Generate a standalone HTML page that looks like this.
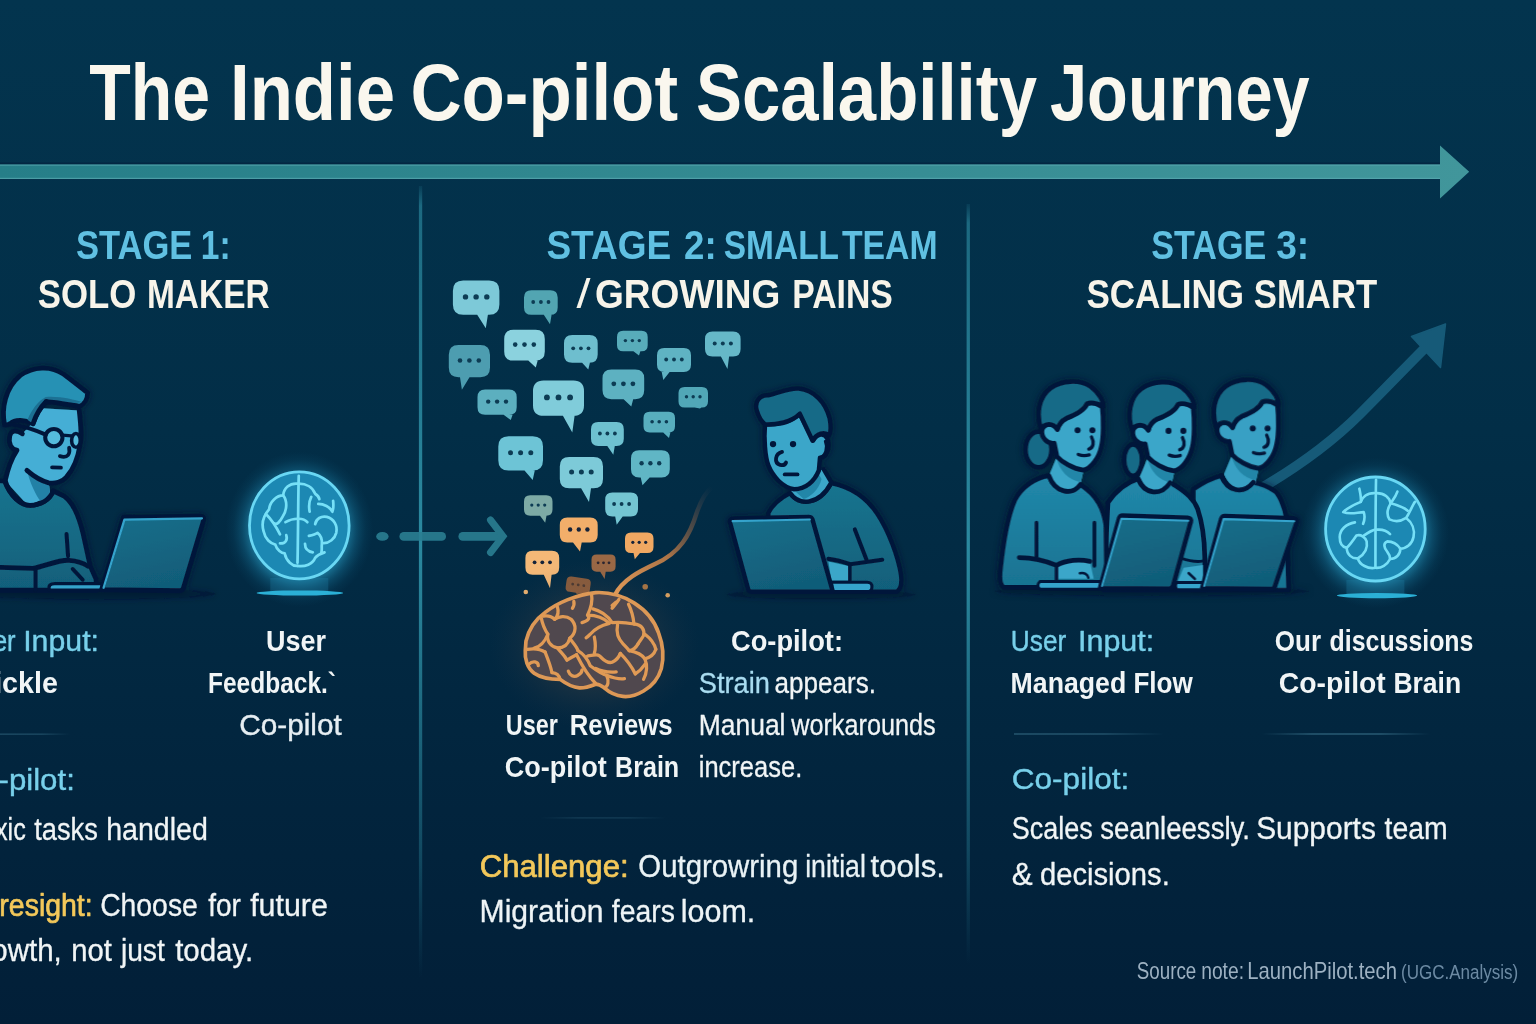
<!DOCTYPE html>
<html lang="en"><head><meta charset="utf-8"><title>The Indie Co-pilot Scalability Journey</title>
<style>
html,body{margin:0;padding:0;background:#03304a;overflow:hidden}
svg{display:block}
text{font-family:"Liberation Sans",sans-serif}
</style></head><body>
<svg width="1536" height="1024" viewBox="0 0 1536 1024">
<defs>
<linearGradient id="bg" x1="0" y1="0" x2="0" y2="1">
<stop offset="0" stop-color="#03344e"/><stop offset="0.42" stop-color="#022e47"/><stop offset="0.75" stop-color="#02253e"/><stop offset="1" stop-color="#021f38"/>
</linearGradient>
<linearGradient id="arrowg" x1="0" y1="0" x2="1" y2="0">
<stop offset="0" stop-color="#267e88"/><stop offset="1" stop-color="#41969b"/>
</linearGradient>
<linearGradient id="divg" x1="0" y1="0" x2="0" y2="1">
<stop offset="0" stop-color="#2d8ea4" stop-opacity="0.12"/><stop offset="0.025" stop-color="#2d8ea4" stop-opacity="0.6"/><stop offset="0.19" stop-color="#2d8ea4" stop-opacity="0.75"/><stop offset="0.45" stop-color="#2d8ea4" stop-opacity="0.95"/><stop offset="0.55" stop-color="#2d8ea4" stop-opacity="0.82"/><stop offset="0.85" stop-color="#2d8ea4" stop-opacity="0.34"/><stop offset="1" stop-color="#2d8ea4" stop-opacity="0"/>
</linearGradient>
<radialGradient id="glow" cx="0.5" cy="0.5" r="0.5">
<stop offset="0" stop-color="#2fb4dc" stop-opacity="0.6"/><stop offset="0.66" stop-color="#2aa6cf" stop-opacity="0.55"/><stop offset="0.78" stop-color="#1d8bb4" stop-opacity="0.3"/><stop offset="0.9" stop-color="#15769c" stop-opacity="0.1"/><stop offset="1" stop-color="#10688e" stop-opacity="0"/>
</radialGradient>
<radialGradient id="oglow" cx="0.5" cy="0.5" r="0.5">
<stop offset="0" stop-color="#c98a4e" stop-opacity="0.30"/><stop offset="0.6" stop-color="#7a5a48" stop-opacity="0.14"/><stop offset="1" stop-color="#3a4050" stop-opacity="0"/>
</radialGradient>
<linearGradient id="tailg" x1="0" y1="1" x2="1" y2="0">
<stop offset="0" stop-color="#e29a58"/><stop offset="0.45" stop-color="#c07d48" stop-opacity="0.9"/><stop offset="0.75" stop-color="#6d5547" stop-opacity="0.6"/><stop offset="1" stop-color="#3b4150" stop-opacity="0"/>
</linearGradient>
<linearGradient id="sepg" x1="0" y1="0" x2="1" y2="0">
<stop offset="0" stop-color="#4b8ba4" stop-opacity="0"/><stop offset="0.3" stop-color="#4b8ba4" stop-opacity="0.55"/><stop offset="0.7" stop-color="#4b8ba4" stop-opacity="0.55"/><stop offset="1" stop-color="#4b8ba4" stop-opacity="0"/>
</linearGradient>
<linearGradient id="sepl" x1="0" y1="0" x2="1" y2="0">
<stop offset="0" stop-color="#4b8ba4" stop-opacity="0.5"/><stop offset="0.6" stop-color="#4b8ba4" stop-opacity="0.45"/><stop offset="1" stop-color="#4b8ba4" stop-opacity="0"/>
</linearGradient>
<filter id="blur3" x="-20%" y="-20%" width="140%" height="140%"><feGaussianBlur stdDeviation="3"/></filter>
<filter id="blur6" x="-30%" y="-30%" width="160%" height="160%"><feGaussianBlur stdDeviation="6"/></filter>
</defs>
<rect x="0" y="0" width="1536" height="1024" fill="url(#bg)"/>
<rect x="-2" y="162.5" width="1442" height="2.5" fill="#04203c" opacity="0.6"/>
<path d="M-2,164.5 H1440 V145.5 L1469.2,171.8 L1440,198.5 V179 H-2 Z" fill="url(#arrowg)"/>
<rect x="-2" y="164.5" width="1442" height="1.2" fill="#5aaab0" opacity="0.7"/>
<rect x="-2" y="177.8" width="1442" height="1.2" fill="#5aaab0" opacity="0.7"/>
<rect x="418.9" y="186" width="3.3" height="792" fill="url(#divg)"/>
<rect x="966.6" y="204" width="3.3" height="760" fill="url(#divg)"/>
<rect x="0" y="733.5" width="70" height="1.3" fill="url(#sepl)" opacity="0.8"/>
<rect x="1014" y="733.3" width="150" height="1.4" fill="url(#sepl)"/>
<rect x="1262" y="733.3" width="168" height="1.4" fill="url(#sepg)"/>
<rect x="540" y="817.3" width="126" height="1.2" fill="url(#sepg)" opacity="0.45"/>
<g id="growth" opacity="0.95"><path d="M1258,490 C1296,468 1334,440 1360,414 C1385,389 1405,368 1424,349" fill="none" stroke="#185d7b" stroke-width="10" stroke-linecap="round"/><path d="M1445.5,324 L1411.5,336.5 L1440.5,367.5 Z" fill="#185d7b" stroke="#185d7b" stroke-width="1.5" stroke-linejoin="round"/></g>
<g id="dash" opacity="0.9"><ellipse cx="382.4" cy="536.4" rx="6.2" ry="4.4" fill="#2a7f92"/><rect x="399.4" y="532" width="46.6" height="8.8" rx="4.4" fill="#2a7f92"/><path d="M462.8,532 H503 V540.8 H462.8 A4.4,4.4 0 0 1 462.8,532 Z" fill="#2a7f92"/><path d="M490.5,520 L503,536.3 L490.5,552.5" fill="none" stroke="#2a7f92" stroke-width="7" stroke-linecap="round" stroke-linejoin="miter"/></g>
<g id="bubbles">
<g opacity="1"><path d="M463.2,280.4 H489.1 Q499.4,280.4 499.4,290.7 V304.5 Q499.4,314.8 489.1,314.8 H487.9 L485.8,328.3 L477.2,314.8 H463.2 Q452.9,314.8 452.9,304.5 V290.7 Q452.9,280.4 463.2,280.4 Z" fill="#7dc9d8"/><circle cx="465.5" cy="296.9" r="2.7" fill="#0d3c54"/><circle cx="476.1" cy="296.9" r="2.7" fill="#0d3c54"/><circle cx="486.8" cy="296.9" r="2.7" fill="#0d3c54"/></g>
<g opacity="1"><path d="M531.4,290.2 H550.3 Q557.7,290.2 557.7,297.6 V307.4 Q557.7,314.8 550.3,314.8 H551.6 L550.0,324.2 L543.8,314.8 H531.4 Q524.0,314.8 524.0,307.4 V297.6 Q524.0,290.2 531.4,290.2 Z" fill="#52a5b2"/><circle cx="533.2" cy="302.0" r="1.9" fill="#0d3c54"/><circle cx="540.9" cy="302.0" r="1.9" fill="#0d3c54"/><circle cx="548.5" cy="302.0" r="1.9" fill="#0d3c54"/></g>
<g opacity="1"><path d="M458.5,345.0 H480.3 Q490.0,345.0 490.0,354.7 V367.6 Q490.0,377.3 480.3,377.3 H469.5 L461.9,389.8 L460.0,377.3 H458.5 Q448.8,377.3 448.8,367.6 V354.7 Q448.8,345.0 458.5,345.0 Z" fill="#4d9db0"/><circle cx="460.0" cy="360.5" r="2.3" fill="#0d3c54"/><circle cx="469.4" cy="360.5" r="2.3" fill="#0d3c54"/><circle cx="478.8" cy="360.5" r="2.3" fill="#0d3c54"/></g>
<g opacity="1"><path d="M513.4,329.8 H535.6 Q544.8,329.8 544.8,339.0 V351.4 Q544.8,360.6 535.6,360.6 H537.7 L535.8,367.5 L528.3,360.6 H513.4 Q504.2,360.6 504.2,351.4 V339.0 Q504.2,329.8 513.4,329.8 Z" fill="#8bd2de"/><circle cx="515.2" cy="344.6" r="2.3" fill="#0d3c54"/><circle cx="524.5" cy="344.6" r="2.3" fill="#0d3c54"/><circle cx="533.8" cy="344.6" r="2.3" fill="#0d3c54"/></g>
<g opacity="1"><path d="M572.3,335.0 H589.4 Q597.7,335.0 597.7,343.3 V354.4 Q597.7,362.7 589.4,362.7 H589.9 L588.3,369.6 L582.1,362.7 H572.3 Q564.0,362.7 564.0,354.4 V343.3 Q564.0,335.0 572.3,335.0 Z" fill="#6ebece"/><circle cx="573.2" cy="348.3" r="1.9" fill="#0d3c54"/><circle cx="580.9" cy="348.3" r="1.9" fill="#0d3c54"/><circle cx="588.5" cy="348.3" r="1.9" fill="#0d3c54"/></g>
<g opacity="1"><path d="M623.1,330.8 H641.6 Q647.7,330.8 647.7,336.9 V345.2 Q647.7,351.3 641.6,351.3 H640.4 L639.0,355.4 L633.4,351.3 H623.1 Q617.0,351.3 617.0,345.2 V336.9 Q617.0,330.8 623.1,330.8 Z" fill="#58acba"/><circle cx="625.4" cy="340.6" r="1.7" fill="#0d3c54"/><circle cx="632.4" cy="340.6" r="1.7" fill="#0d3c54"/><circle cx="639.3" cy="340.6" r="1.7" fill="#0d3c54"/></g>
<g opacity="1"><path d="M712.5,331.5 H733.1 Q740.6,331.5 740.6,339.0 V349.0 Q740.6,356.5 733.1,356.5 H729.1 L727.5,369.0 L720.9,356.5 H712.5 Q705.0,356.5 705.0,349.0 V339.0 Q705.0,331.5 712.5,331.5 Z" fill="#66b8c8"/><circle cx="714.7" cy="343.5" r="2.0" fill="#0d3c54"/><circle cx="722.8" cy="343.5" r="2.0" fill="#0d3c54"/><circle cx="730.9" cy="343.5" r="2.0" fill="#0d3c54"/></g>
<g opacity="1"><path d="M664.2,348.0 H683.8 Q691.0,348.0 691.0,355.2 V364.8 Q691.0,372.0 683.8,372.0 H669.6 L663.3,380.0 L661.7,372.0 H664.2 Q657.0,372.0 657.0,364.8 V355.2 Q657.0,348.0 664.2,348.0 Z" fill="#5fb3c3"/><circle cx="666.2" cy="359.5" r="1.9" fill="#0d3c54"/><circle cx="674.0" cy="359.5" r="1.9" fill="#0d3c54"/><circle cx="681.8" cy="359.5" r="1.9" fill="#0d3c54"/></g>
<g opacity="1"><path d="M611.4,369.6 H635.3 Q644.2,369.6 644.2,378.5 V390.3 Q644.2,399.2 635.3,399.2 H633.2 L631.3,406.5 L623.6,399.2 H611.4 Q602.5,399.2 602.5,390.3 V378.5 Q602.5,369.6 611.4,369.6 Z" fill="#5db1c1"/><circle cx="613.8" cy="383.8" r="2.4" fill="#0d3c54"/><circle cx="623.4" cy="383.8" r="2.4" fill="#0d3c54"/><circle cx="632.9" cy="383.8" r="2.4" fill="#0d3c54"/></g>
<g opacity="1"><path d="M485.1,389.4 H509.1 Q516.7,389.4 516.7,397.0 V407.2 Q516.7,414.8 509.1,414.8 H512.6 L510.8,420.0 L503.6,414.8 H485.1 Q477.5,414.8 477.5,407.2 V397.0 Q477.5,389.4 485.1,389.4 Z" fill="#5cafbf"/><circle cx="488.2" cy="401.6" r="2.2" fill="#0d3c54"/><circle cx="497.1" cy="401.6" r="2.2" fill="#0d3c54"/><circle cx="506.0" cy="401.6" r="2.2" fill="#0d3c54"/></g>
<g opacity="1"><path d="M543.6,380.4 H573.4 Q584.0,380.4 584.0,391.0 V405.2 Q584.0,415.8 573.4,415.8 H574.6 L572.3,432.5 L562.9,415.8 H543.6 Q533.0,415.8 533.0,405.2 V391.0 Q533.0,380.4 543.6,380.4 Z" fill="#80ccda"/><circle cx="546.9" cy="397.4" r="2.9" fill="#0d3c54"/><circle cx="558.5" cy="397.4" r="2.9" fill="#0d3c54"/><circle cx="570.1" cy="397.4" r="2.9" fill="#0d3c54"/></g>
<g opacity="1"><path d="M684.6,387.0 H701.9 Q708.0,387.0 708.0,393.1 V401.4 Q708.0,407.5 701.9,407.5 H701.4 L700.0,408.5 L694.6,407.5 H684.6 Q678.5,407.5 678.5,401.4 V393.1 Q678.5,387.0 684.6,387.0 Z" fill="#51a7b7"/><circle cx="686.5" cy="396.8" r="1.7" fill="#0d3c54"/><circle cx="693.2" cy="396.8" r="1.7" fill="#0d3c54"/><circle cx="700.0" cy="396.8" r="1.7" fill="#0d3c54"/></g>
<g opacity="1"><path d="M649.7,411.7 H668.8 Q675.0,411.7 675.0,417.9 V426.3 Q675.0,432.5 668.8,432.5 H670.4 L669.0,438.0 L663.2,432.5 H649.7 Q643.5,432.5 643.5,426.3 V417.9 Q643.5,411.7 649.7,411.7 Z" fill="#58aebe"/><circle cx="652.1" cy="421.7" r="1.8" fill="#0d3c54"/><circle cx="659.2" cy="421.7" r="1.8" fill="#0d3c54"/><circle cx="666.4" cy="421.7" r="1.8" fill="#0d3c54"/></g>
<g opacity="1"><path d="M598.2,422.0 H616.6 Q623.8,422.0 623.8,429.2 V438.8 Q623.8,446.0 616.6,446.0 H614.8 L613.3,454.8 L607.3,446.0 H598.2 Q591.0,446.0 591.0,438.8 V429.2 Q591.0,422.0 598.2,422.0 Z" fill="#6ec1d0"/><circle cx="599.9" cy="433.5" r="1.9" fill="#0d3c54"/><circle cx="607.4" cy="433.5" r="1.9" fill="#0d3c54"/><circle cx="614.9" cy="433.5" r="1.9" fill="#0d3c54"/></g>
<g opacity="1"><path d="M508.6,436.2 H532.7 Q543.0,436.2 543.0,446.5 V460.3 Q543.0,470.6 532.7,470.6 H534.8 L532.7,480.0 L524.5,470.6 H508.6 Q498.3,470.6 498.3,460.3 V446.5 Q498.3,436.2 508.6,436.2 Z" fill="#6dc4d6"/><circle cx="510.5" cy="452.7" r="2.5" fill="#0d3c54"/><circle cx="520.6" cy="452.7" r="2.5" fill="#0d3c54"/><circle cx="530.8" cy="452.7" r="2.5" fill="#0d3c54"/></g>
<g opacity="1"><path d="M569.2,457.0 H593.6 Q603.0,457.0 603.0,466.4 V478.9 Q603.0,488.3 593.6,488.3 H591.0 L589.0,501.9 L581.1,488.3 H569.2 Q559.8,488.3 559.8,478.9 V466.4 Q559.8,457.0 569.2,457.0 Z" fill="#7dcad8"/><circle cx="571.6" cy="472.0" r="2.5" fill="#0d3c54"/><circle cx="581.4" cy="472.0" r="2.5" fill="#0d3c54"/><circle cx="591.2" cy="472.0" r="2.5" fill="#0d3c54"/></g>
<g opacity="1"><path d="M639.2,450.2 H661.6 Q669.8,450.2 669.8,458.4 V469.3 Q669.8,477.5 661.6,477.5 H649.6 L642.5,485.2 L640.7,477.5 H639.2 Q631.0,477.5 631.0,469.3 V458.4 Q631.0,450.2 639.2,450.2 Z" fill="#60b6c5"/><circle cx="641.6" cy="463.3" r="2.2" fill="#0d3c54"/><circle cx="650.4" cy="463.3" r="2.2" fill="#0d3c54"/><circle cx="659.2" cy="463.3" r="2.2" fill="#0d3c54"/></g>
<g opacity="1"><path d="M530.2,495.2 H546.3 Q552.5,495.2 552.5,501.4 V509.6 Q552.5,515.8 546.3,515.8 H546.5 L545.2,522.7 L540.0,515.8 H530.2 Q524.0,515.8 524.0,509.6 V501.4 Q524.0,495.2 530.2,495.2 Z" fill="#7daaa5"/><circle cx="531.8" cy="505.1" r="1.6" fill="#0d3c54"/><circle cx="538.2" cy="505.1" r="1.6" fill="#0d3c54"/><circle cx="544.7" cy="505.1" r="1.6" fill="#0d3c54"/></g>
<g opacity="1"><path d="M612.4,492.5 H630.8 Q638.0,492.5 638.0,499.7 V509.3 Q638.0,516.5 630.8,516.5 H622.7 L616.7,524.8 L615.2,516.5 H612.4 Q605.2,516.5 605.2,509.3 V499.7 Q605.2,492.5 612.4,492.5 Z" fill="#74c5d2"/><circle cx="614.1" cy="504.0" r="1.9" fill="#0d3c54"/><circle cx="621.6" cy="504.0" r="1.9" fill="#0d3c54"/><circle cx="629.1" cy="504.0" r="1.9" fill="#0d3c54"/></g>
<g opacity="1"><path d="M567.3,517.5 H590.2 Q597.7,517.5 597.7,525.0 V535.0 Q597.7,542.5 590.2,542.5 H581.7 L580.0,551.5 L573.0,542.5 H567.3 Q559.8,542.5 559.8,535.0 V525.0 Q559.8,517.5 567.3,517.5 Z" fill="#f2ae6a"/><circle cx="570.1" cy="529.5" r="2.2" fill="#15233a"/><circle cx="578.8" cy="529.5" r="2.2" fill="#15233a"/><circle cx="587.4" cy="529.5" r="2.2" fill="#15233a"/></g>
<g opacity="1"><path d="M631.1,532.5 H647.4 Q653.5,532.5 653.5,538.6 V546.9 Q653.5,553.0 647.4,553.0 H640.0 L634.8,559.2 L633.5,553.0 H631.1 Q625.0,553.0 625.0,546.9 V538.6 Q625.0,532.5 631.1,532.5 Z" fill="#f0a862"/><circle cx="632.8" cy="542.3" r="1.6" fill="#15233a"/><circle cx="639.2" cy="542.3" r="1.6" fill="#15233a"/><circle cx="645.7" cy="542.3" r="1.6" fill="#15233a"/></g>
<g opacity="1"><path d="M532.6,550.8 H552.0 Q559.2,550.8 559.2,558.0 V567.6 Q559.2,574.8 552.0,574.8 H551.6 L550.0,588.3 L543.8,574.8 H532.6 Q525.4,574.8 525.4,567.6 V558.0 Q525.4,550.8 532.6,550.8 Z" fill="#f4b877"/><circle cx="534.6" cy="562.3" r="1.9" fill="#15233a"/><circle cx="542.3" cy="562.3" r="1.9" fill="#15233a"/><circle cx="550.0" cy="562.3" r="1.9" fill="#15233a"/></g>
<g opacity="1"><path d="M596.6,554.6 H610.5 Q615.6,554.6 615.6,559.7 V566.6 Q615.6,571.7 610.5,571.7 H605.7 L604.6,579.0 L600.2,571.7 H596.6 Q591.5,571.7 591.5,566.6 V559.7 Q591.5,554.6 596.6,554.6 Z" fill="#9a6845"/><circle cx="598.1" cy="562.8" r="1.4" fill="#2a2530"/><circle cx="603.5" cy="562.8" r="1.4" fill="#2a2530"/><circle cx="609.0" cy="562.8" r="1.4" fill="#2a2530"/></g>
<g opacity="1" transform="rotate(8 578.2 585.2)"><path d="M570.6,577.5 H585.8 Q590.4,577.5 590.4,582.1 V588.4 Q590.4,593.0 585.8,593.0 H582.5 L578.0,594.0 L576.9,593.0 H570.6 Q566.0,593.0 566.0,588.4 V582.1 Q566.0,577.5 570.6,577.5 Z" fill="#8a5c3c"/><circle cx="572.6" cy="584.9" r="1.4" fill="#4a3830"/><circle cx="578.2" cy="584.9" r="1.4" fill="#4a3830"/><circle cx="583.8" cy="584.9" r="1.4" fill="#4a3830"/></g>
<circle cx="525.8" cy="592" r="2.3" fill="#e8b070"/><circle cx="645.2" cy="586.7" r="2.8" fill="#a87645"/><circle cx="667.7" cy="595.2" r="2.3" fill="#d9a060"/>
</g>
<ellipse cx="594" cy="645" rx="105" ry="85" fill="url(#oglow)"/>
<path d="M615,595 C622,580 640,571 655,564 C680,553 690,535 697,512 C702,498 707,491 712,487" fill="none" stroke="url(#tailg)" stroke-width="4.4" stroke-linecap="round"/>
<g transform="translate(500,570) scale(0.13671)"><path d="M190,520 C210,430 260,360 330,310 C420,240 560,180 700,165 C800,160 900,190 980,240 C1060,290 1130,370 1160,460 C1190,540 1200,640 1180,720 C1160,790 1110,850 1050,885 C1000,915 950,930 900,925 C850,920 800,895 760,860 C740,845 720,835 700,835 C660,850 620,865 580,862 C530,858 480,830 440,800 C380,800 300,790 250,755 C200,720 180,650 185,590 Z" fill="#50484e" stroke="#dd9856" stroke-width="27" stroke-linejoin="round"/><g fill="none" stroke="#e09a55" stroke-width="24" stroke-linecap="round" stroke-linejoin="round"><path d="M300,340 C310,400 330,440 350,470 C340,520 370,560 420,570 C470,570 500,540 510,500 C560,460 560,400 520,360 C480,330 430,340 400,360 C380,340 340,330 300,340"/><path d="M420,270 C430,300 430,330 400,360"/><path d="M540,230 C545,250 540,265 530,280"/><path d="M670,180 C680,240 660,290 640,330 C660,350 650,370 600,385"/><path d="M640,330 C700,330 760,350 800,390 C760,400 700,420 660,470 C650,480 640,490 630,495"/><path d="M680,285 C740,300 790,340 820,385 C870,380 930,385 980,395 C975,340 960,290 940,250"/><path d="M870,215 C855,240 835,260 820,280"/><path d="M860,400 C850,450 860,500 900,540 C920,560 935,575 945,590"/><path d="M980,395 C1040,400 1060,440 1050,480 C1040,500 1020,520 1010,540"/><path d="M1060,470 C1100,500 1130,540 1140,580"/><path d="M945,590 C1000,600 1040,620 1060,650 C1100,640 1130,610 1140,580"/><path d="M1060,650 C1080,700 1070,760 1050,800"/><path d="M990,760 C1020,740 1040,720 1060,690"/><path d="M200,580 C260,570 300,580 330,600"/><path d="M210,690 C240,660 280,670 280,700"/><path d="M330,600 C350,650 370,700 380,750"/><path d="M420,570 C440,600 470,620 490,660 C520,640 540,630 560,620"/><path d="M570,590 C620,620 640,650 660,700 C700,730 740,760 780,770 C830,790 880,800 910,795"/><path d="M640,630 C690,620 720,610 740,640 C770,670 800,680 820,675 C850,660 870,640 880,610"/><path d="M690,490 C700,540 700,580 690,610"/><path d="M500,740 C510,770 540,790 570,770 C590,760 600,745 600,730"/><path d="M700,720 C740,740 790,750 850,745"/><path d="M820,260 L850,235"/><path d="M350,470 C330,520 300,560 250,572"/><path d="M510,500 C540,540 565,565 570,590"/><path d="M880,610 C920,650 960,700 990,760"/><path d="M1010,540 C990,575 965,588 945,590"/><path d="M440,800 C432,765 405,752 380,750"/><path d="M780,770 C800,815 790,850 765,862"/><path d="M560,620 C600,700 650,780 700,830"/></g></g>
<g><ellipse cx="299.3" cy="529.4" rx="73.7" ry="77.6" fill="url(#glow)"/><rect x="270.3" y="577.9" width="58" height="15.1" fill="#1f86ab" opacity="0.28"/><ellipse cx="299.9" cy="593" rx="43.4" ry="2.6" fill="#2bb0d6"/><ellipse cx="299.3" cy="525.4" rx="49.8" ry="53.5" fill="#1c88b3" stroke="#69d7f3" stroke-width="2.8"/><g transform="translate(230,450) scale(0.15625)" fill="none" stroke="#76e0f7" stroke-width="17.5" stroke-linecap="round" stroke-linejoin="round"><path d="M440,165 C436,300 436,560 432,722"/><path d="M432,215 C380,210 345,245 340,290 C300,290 255,330 250,380 C215,420 200,470 215,520 C225,570 260,600 290,605 C300,640 330,660 350,662 C360,710 400,745 432,742"/><path d="M340,290 C365,320 370,380 335,430 C320,460 300,480 285,470"/><path d="M230,410 C260,440 300,500 320,540"/><path d="M360,545 C370,575 355,600 320,598"/><path d="M432,440 C400,440 375,450 355,462"/><path d="M432,742 C480,750 530,730 545,690 C560,670 590,660 605,655"/><path d="M440,215 C490,215 530,240 545,280 C560,290 570,300 572,315"/><path d="M520,300 C505,330 505,370 510,395"/><path d="M565,345 C600,345 640,365 655,395 C665,370 662,345 660,325"/><path d="M545,475 C550,440 585,420 620,428 C665,440 690,485 680,530 C670,570 635,595 600,596"/><path d="M505,550 C525,545 545,540 560,530 C580,545 590,570 588,600 C585,625 590,640 585,655"/><path d="M440,440 C465,440 485,450 495,462"/><path d="M480,600 C480,630 500,650 530,655"/></g></g>
<g><ellipse cx="1375.4" cy="533" rx="73.7" ry="75.4" fill="url(#glow)"/><rect x="1346.4" y="580.0" width="58" height="15.6" fill="#1f86ab" opacity="0.28"/><ellipse cx="1377.0" cy="595.6" rx="40.2" ry="2.6" fill="#2bb0d6"/><ellipse cx="1375.4" cy="529" rx="49.8" ry="52" fill="#1c88b3" stroke="#69d7f3" stroke-width="2.8"/><g transform="translate(1270,310) scale(0.2929)" fill="none" stroke="#76e0f7" stroke-width="9" stroke-linecap="round" stroke-linejoin="round"><path d="M362,580 C360,680 360,800 360,880"/><path d="M355,625 C330,625 315,640 310,655 C285,665 265,675 250,690 C275,700 300,690 320,690 C325,705 322,720 318,730"/><path d="M305,610 C308,625 312,640 310,655"/><path d="M290,725 C260,730 238,750 238,775 C238,800 250,810 262,812 C262,835 280,850 300,848 C305,870 335,885 360,880"/><path d="M262,812 C275,800 285,785 295,770 C310,765 325,775 330,790 C335,815 320,835 300,848"/><path d="M320,770 C335,760 348,752 360,750"/><path d="M365,625 C390,625 408,640 412,660 C430,665 455,672 470,685"/><path d="M435,620 C428,640 418,650 412,660"/><path d="M412,660 C400,680 398,700 408,715 C430,725 450,720 465,710 C475,695 485,670 495,655"/><path d="M465,710 C485,725 495,750 490,775 C485,800 465,815 445,815 C445,835 430,850 410,850 C400,870 380,882 360,880"/><path d="M445,815 C435,800 420,790 400,790 C385,795 390,815 400,825 C408,835 410,845 410,850"/><path d="M365,750 C385,748 400,755 410,765"/></g></g>
<defs><linearGradient id="shirtA" x1="0" y1="0" x2="0" y2="1"><stop offset="0" stop-color="#19748f"/><stop offset="1" stop-color="#115f7a"/></linearGradient><linearGradient id="shirtB" x1="0" y1="0" x2="0" y2="1"><stop offset="0" stop-color="#2188aa"/><stop offset="1" stop-color="#197392"/></linearGradient><linearGradient id="lapg" x1="0" y1="0" x2="0.3" y2="1"><stop offset="0" stop-color="#176f8b"/><stop offset="1" stop-color="#115d79"/></linearGradient><filter id="halo" x="-8%" y="-8%" width="116%" height="116%"><feGaussianBlur in="SourceAlpha" stdDeviation="3.2" result="b"/><feFlood flood-color="#021632" flood-opacity="0.75"/><feComposite in2="b" operator="in" result="s"/><feMerge><feMergeNode in="s"/><feMergeNode in="SourceGraphic"/></feMerge></filter></defs>
<g filter="url(#halo)"><g id="p1" transform="translate(0,350) scale(0.25397)"><ellipse cx="380" cy="960" rx="470" ry="22" fill="#021a33" opacity="0.55"/><path d="M-30,512 L18,516 C40,578 85,612 118,612 C160,610 195,590 210,555 L252,575 C292,602 312,660 327,722 C340,780 350,828 356,852 L378,902 L382,946 L-30,946 Z" fill="url(#shirtA)" stroke="#06193a" stroke-width="19" stroke-linejoin="round" stroke-linecap="round"/><path d="M150,228 L312,238 C318,290 322,340 316,370 C308,420 290,470 262,500 C245,520 215,528 192,523 L198,575 L110,612 L20,514 C30,470 50,420 67,394 C45,392 32,370 38,340 C42,318 62,312 88,330 L130,285 Z" fill="#45aed5"/><path d="M108,480 C135,505 165,520 192,524 L198,574 L160,596 C138,566 118,522 108,480 Z" fill="#2481a6"/><path d="M312,238 C318,290 322,340 316,370 C308,420 290,470 262,500 C245,520 215,528 192,523 C160,515 130,495 106,474" fill="none" stroke="#06193a" stroke-width="19" stroke-linejoin="round" stroke-linecap="round"/><path d="M88,330 C62,312 42,318 38,340 C32,370 45,392 67,394 C50,420 30,470 21,512" fill="none" stroke="#06193a" stroke-width="19" stroke-linejoin="round" stroke-linecap="round"/><path d="M20,514 C40,578 85,612 118,612 C160,610 195,590 210,555" fill="none" stroke="#06193a" stroke-width="19" stroke-linejoin="round" stroke-linecap="round"/><path d="M18,295 C5,230 20,150 80,100 C130,65 200,60 250,95 C290,125 320,150 345,168 C345,195 330,215 312,222 C270,215 220,205 182,203 C160,225 140,260 130,290 C100,275 60,270 40,290 C30,296 22,298 18,295 Z" fill="#2891b4" stroke="#06193a" stroke-width="19" stroke-linejoin="round" stroke-linecap="round"/><path d="M108,275 C125,235 150,200 180,185 C230,180 290,195 325,205 C290,215 220,205 182,203 C160,225 140,260 130,290 Z" fill="#1b7093"/><path d="M182,203 C160,225 140,260 130,290" fill="none" stroke="#06193a" stroke-width="19" stroke-linejoin="round" stroke-linecap="round"/><path d="M182,203 C220,205 270,215 312,222" fill="none" stroke="#06193a" stroke-width="19" stroke-linejoin="round" stroke-linecap="round"/><circle cx="212" cy="345" r="34" fill="#55bbdd" stroke="#06193a" stroke-width="16" stroke-linejoin="round" stroke-linecap="round"/><ellipse cx="299" cy="356" rx="17" ry="27" fill="#55bbdd" stroke="#06193a" stroke-width="14" stroke-linejoin="round" stroke-linecap="round"/><path d="M245,335 L282,338" fill="none" stroke="#06193a" stroke-width="13" stroke-linejoin="round" stroke-linecap="round"/><path d="M40,292 C90,298 140,315 180,333" fill="none" stroke="#06193a" stroke-width="16" stroke-linejoin="round" stroke-linecap="round"/><path d="M272,385 C277,408 268,428 236,418" fill="none" stroke="#06193a" stroke-width="15" stroke-linejoin="round" stroke-linecap="round"/><path d="M205,462 L240,463" fill="none" stroke="#06193a" stroke-width="15" stroke-linejoin="round" stroke-linecap="round"/><path d="M262,725 L268,812" fill="none" stroke="#06193a" stroke-width="16" stroke-linejoin="round" stroke-linecap="round"/><path d="M-30,855 L130,860 C180,850 230,826 272,828 C302,830 330,840 346,851" fill="none" stroke="#06193a" stroke-width="19" stroke-linejoin="round" stroke-linecap="round"/><path d="M140,868 L140,946" fill="none" stroke="#06193a" stroke-width="16" stroke-linejoin="round" stroke-linecap="round"/><path d="M286,862 L326,905" fill="none" stroke="#06193a" stroke-width="15" stroke-linejoin="round" stroke-linecap="round"/><path d="M195,946 C188,926 200,920 216,920 L402,920 L402,946 Z" fill="#34a3cc" stroke="#06193a" stroke-width="13" stroke-linejoin="round" stroke-linecap="round"/><path d="M486,658 L790,654 Q806,654 802,670 L722,938 Q718,948 708,948 L400,944 Z" fill="url(#lapg)" stroke="#06193a" stroke-width="19" stroke-linejoin="round" stroke-linecap="round"/><path d="M408,936 L490,668 L795,663" fill="none" stroke="#34a3cc" stroke-width="9" stroke-linejoin="round" stroke-linecap="round"/></g>
</g><g filter="url(#halo)"><g id="p2" transform="translate(720,380) scale(0.22472)"><ellipse cx="450" cy="955" rx="420" ry="20" fill="#021a33" opacity="0.5"/><path d="M215,592 C235,552 275,522 312,503 C350,560 440,560 495,458 C580,475 650,520 700,595 C750,670 795,790 806,870 C810,905 805,930 788,942 L215,942 Z" fill="url(#shirtA)" stroke="#06193a" stroke-width="20" stroke-linejoin="round" stroke-linecap="round"/><path d="M330,462 L312,503 C350,560 440,558 495,458 L468,392 Z" fill="#3aa6c9"/><path d="M325,486 C365,492 420,470 440,420 L452,440 C440,490 400,520 372,530 Z" fill="#2486a8"/><path d="M312,503 C350,560 440,560 495,458" fill="none" stroke="#06193a" stroke-width="20" stroke-linejoin="round" stroke-linecap="round"/><path d="M462,398 L496,456" fill="none" stroke="#06193a" stroke-width="20" stroke-linejoin="round" stroke-linecap="round"/><path d="M200,198 C195,260 200,340 215,380 C235,430 280,480 330,486 C380,486 420,452 440,402 L445,346 C475,346 492,300 478,262 C465,234 435,236 415,268 L355,150 C320,186 260,200 200,198 Z" fill="#3aa6c9" stroke="#06193a" stroke-width="20" stroke-linejoin="round" stroke-linecap="round"/><path d="M165,140 C150,100 175,65 215,68 C260,60 300,35 350,38 C420,45 470,100 488,170 C495,210 492,235 486,246 C465,228 430,236 412,270 L355,150 C320,186 250,200 200,198 C185,185 172,165 165,140 Z" fill="#166b87" stroke="#06193a" stroke-width="20" stroke-linejoin="round" stroke-linecap="round"/><circle cx="236" cy="285" r="14" fill="#06193a"/><circle cx="325" cy="285" r="14" fill="#06193a"/><path d="M276,320 C246,328 238,368 268,378 C282,381 291,375 294,367" fill="none" stroke="#06193a" stroke-width="17" stroke-linejoin="round" stroke-linecap="round"/><path d="M288,420 L345,420" fill="none" stroke="#06193a" stroke-width="17" stroke-linejoin="round" stroke-linecap="round"/><path d="M442,345 C470,338 480,300 468,272" fill="none" stroke="#06193a" stroke-width="12" stroke-linejoin="round" stroke-linecap="round"/><path d="M482,808 L572,828 L578,892 L496,892 Z" fill="#3aa6c9"/><path d="M600,665 L652,800" fill="none" stroke="#06193a" stroke-width="18" stroke-linejoin="round" stroke-linecap="round"/><path d="M482,796 C520,800 556,812 580,820 L722,800" fill="none" stroke="#06193a" stroke-width="18" stroke-linejoin="round" stroke-linecap="round"/><path d="M578,822 L578,892" fill="none" stroke="#06193a" stroke-width="16" stroke-linejoin="round" stroke-linecap="round"/><path d="M496,900 L655,900 Q678,900 676,922 Q676,942 655,942 L500,942 Z" fill="#34a3cc" stroke="#06193a" stroke-width="14" stroke-linejoin="round" stroke-linecap="round"/><path d="M60,616 L395,610 Q408,610 412,622 L502,942 L140,942 Q128,942 125,930 L44,632 Q42,617 60,616 Z" fill="url(#lapg)" stroke="#06193a" stroke-width="20" stroke-linejoin="round" stroke-linecap="round"/><path d="M56,628 L400,621" fill="none" stroke="#34a3cc" stroke-width="9" stroke-linecap="round"/></g>
</g><g filter="url(#halo)"><g id="p3" transform="translate(990,370) scale(0.22457)"><ellipse cx="720" cy="985" rx="700" ry="20" fill="#021a33" opacity="0.5"/><path d="M1030,470 C990,480 950,500 905,530 L905,980 L1330,980 L1320,660 C1312,610 1290,560 1270,540 C1240,520 1200,505 1170,500 C1120,550 1060,540 1030,470 Z" fill="url(#shirtB)" stroke="#06193a" stroke-width="21" stroke-linejoin="round" stroke-linecap="round"/><g transform="translate(780,-8)"><path d="M298,385 L262,472 C290,545 365,560 402,510 L418,440 Z" fill="#37a0c4"/><path d="M296,392 C330,430 375,448 416,446 L404,500 C350,490 310,450 296,392 Z" fill="#2486a8"/><path d="M300,265 C305,245 320,225 340,215 C380,200 420,180 432,150 C455,140 480,150 500,165 C506,220 506,300 496,340 C486,390 450,440 415,446 C370,440 320,410 298,385 L286,326 C255,330 225,300 232,265 C245,234 285,236 300,265 Z" fill="#37a0c4" stroke="#06193a" stroke-width="21" stroke-linejoin="round" stroke-linecap="round"/><path d="M228,265 C205,200 215,120 270,80 C320,45 400,40 450,75 C490,105 505,140 505,162 C480,150 455,140 432,150 C420,180 380,200 340,215 C320,225 305,245 300,265 C280,235 245,235 228,265 Z" fill="#166b87" stroke="#06193a" stroke-width="21" stroke-linejoin="round" stroke-linecap="round"/><circle cx="390" cy="268" r="13.5" fill="#06193a"/><circle cx="456" cy="268" r="13.5" fill="#06193a"/><path d="M452,298 C464,320 462,346 440,352" fill="none" stroke="#06193a" stroke-width="15" stroke-linejoin="round" stroke-linecap="round"/><path d="M393,376 C408,382 425,383 442,378" fill="none" stroke="#06193a" stroke-width="15" stroke-linejoin="round" stroke-linecap="round"/></g><path d="M1030,470 C1058,545 1130,552 1172,500" fill="none" stroke="#06193a" stroke-width="21" stroke-linejoin="round" stroke-linecap="round"/><path d="M660,485 C610,500 560,540 525,590 L505,980 L960,980 L956,830 C955,760 945,680 925,620 C910,580 880,545 800,500 C760,560 690,555 660,485 Z" fill="url(#shirtB)" stroke="#06193a" stroke-width="21" stroke-linejoin="round" stroke-linecap="round"/><g transform="translate(405,3)"><ellipse cx="232" cy="398" rx="40" ry="70" fill="#166b87" stroke="#06193a" stroke-width="21" stroke-linejoin="round" stroke-linecap="round"/><path d="M298,385 L262,472 C290,545 365,560 402,510 L418,440 Z" fill="#3aa6c9"/><path d="M296,392 C330,430 375,448 416,446 L404,500 C350,490 310,450 296,392 Z" fill="#2486a8"/><path d="M300,265 C305,245 320,225 340,215 C380,200 420,180 432,150 C455,140 480,150 500,165 C506,220 506,300 496,340 C486,390 450,440 415,446 C370,440 320,410 298,385 L286,326 C255,330 225,300 232,265 C245,234 285,236 300,265 Z" fill="#3aa6c9" stroke="#06193a" stroke-width="21" stroke-linejoin="round" stroke-linecap="round"/><path d="M228,265 C205,200 215,120 270,80 C320,45 400,40 450,75 C490,105 505,140 505,162 C480,150 455,140 432,150 C420,180 380,200 340,215 C320,225 305,245 300,265 C280,235 245,235 228,265 Z" fill="#166b87" stroke="#06193a" stroke-width="21" stroke-linejoin="round" stroke-linecap="round"/><circle cx="390" cy="268" r="13.5" fill="#06193a"/><circle cx="456" cy="268" r="13.5" fill="#06193a"/><path d="M452,298 C464,320 462,346 440,352" fill="none" stroke="#06193a" stroke-width="15" stroke-linejoin="round" stroke-linecap="round"/><path d="M393,376 C408,382 425,383 442,378" fill="none" stroke="#06193a" stroke-width="15" stroke-linejoin="round" stroke-linecap="round"/></g><path d="M660,485 C690,558 762,560 802,502" fill="none" stroke="#06193a" stroke-width="21" stroke-linejoin="round" stroke-linecap="round"/><path d="M862,880 L948,868 L948,945 L835,945 Z" fill="#3aa6c9"/><path d="M850,838 C885,850 920,858 950,850" fill="none" stroke="#06193a" stroke-width="13" stroke-linejoin="round" stroke-linecap="round"/><path d="M885,905 L912,930" fill="none" stroke="#06193a" stroke-width="12" stroke-linejoin="round" stroke-linecap="round"/><path d="M832,946 L948,946 L948,978 L832,978 Q820,962 832,946 Z" fill="#34a3cc" stroke="#06193a" stroke-width="13" stroke-linejoin="round" stroke-linecap="round"/><path d="M1045,650 L1352,660 Q1370,662 1366,678 L1268,965 Q1264,976 1250,976 L945,972 L1030,662 Q1034,650 1045,650 Z" fill="url(#lapg)" stroke="#06193a" stroke-width="21" stroke-linejoin="round" stroke-linecap="round"/><path d="M954,962 L1040,664 L1355,673" fill="none" stroke="#34a3cc" stroke-width="9" stroke-linejoin="round" stroke-linecap="round"/><path d="M262,470 C200,480 140,520 110,580 C75,660 55,800 45,900 C42,940 50,962 62,968 L520,968 L516,690 C505,620 480,560 402,510 C360,560 290,545 262,470 Z" fill="url(#shirtB)" stroke="#06193a" stroke-width="21" stroke-linejoin="round" stroke-linecap="round"/><g transform="translate(0,0)"><ellipse cx="216" cy="354" rx="58" ry="80" fill="#166b87" stroke="#06193a" stroke-width="21" stroke-linejoin="round" stroke-linecap="round"/><path d="M298,385 L262,472 C290,545 365,560 402,510 L418,440 Z" fill="#3aa6c9"/><path d="M296,392 C330,430 375,448 416,446 L404,500 C350,490 310,450 296,392 Z" fill="#2486a8"/><path d="M300,265 C305,245 320,225 340,215 C380,200 420,180 432,150 C455,140 480,150 500,165 C506,220 506,300 496,340 C486,390 450,440 415,446 C370,440 320,410 298,385 L286,326 C255,330 225,300 232,265 C245,234 285,236 300,265 Z" fill="#3aa6c9" stroke="#06193a" stroke-width="21" stroke-linejoin="round" stroke-linecap="round"/><path d="M228,265 C205,200 215,120 270,80 C320,45 400,40 450,75 C490,105 505,140 505,162 C480,150 455,140 432,150 C420,180 380,200 340,215 C320,225 305,245 300,265 C280,235 245,235 228,265 Z" fill="#166b87" stroke="#06193a" stroke-width="21" stroke-linejoin="round" stroke-linecap="round"/><circle cx="390" cy="268" r="13.5" fill="#06193a"/><circle cx="456" cy="268" r="13.5" fill="#06193a"/><path d="M452,298 C464,320 462,346 440,352" fill="none" stroke="#06193a" stroke-width="15" stroke-linejoin="round" stroke-linecap="round"/><path d="M393,376 C408,382 425,383 442,378" fill="none" stroke="#06193a" stroke-width="15" stroke-linejoin="round" stroke-linecap="round"/></g><path d="M262,470 C290,548 365,560 402,510" fill="none" stroke="#06193a" stroke-width="21" stroke-linejoin="round" stroke-linecap="round"/><path d="M300,868 C340,845 400,842 445,852 L462,930 L300,930 Z" fill="#3aa6c9"/><path d="M207,680 L207,830" fill="none" stroke="#06193a" stroke-width="17" stroke-linejoin="round" stroke-linecap="round"/><path d="M465,680 L465,872" fill="none" stroke="#06193a" stroke-width="17" stroke-linejoin="round" stroke-linecap="round"/><path d="M130,835 C200,835 250,850 296,870 C340,845 400,842 445,852" fill="none" stroke="#06193a" stroke-width="21" stroke-linejoin="round" stroke-linecap="round"/><path d="M296,870 L296,932" fill="none" stroke="#06193a" stroke-width="16" stroke-linejoin="round" stroke-linecap="round"/><path d="M400,905 C420,900 435,910 438,925" fill="none" stroke="#06193a" stroke-width="11" stroke-linejoin="round" stroke-linecap="round"/><path d="M222,942 L492,942 L492,976 L222,976 Q204,960 222,942 Z" fill="#34a3cc" stroke="#06193a" stroke-width="13" stroke-linejoin="round" stroke-linecap="round"/><path d="M590,648 L880,658 Q898,660 894,676 L815,962 Q811,974 798,974 L490,972 L575,660 Q579,648 590,648 Z" fill="url(#lapg)" stroke="#06193a" stroke-width="21" stroke-linejoin="round" stroke-linecap="round"/><path d="M499,962 L585,662 L883,671" fill="none" stroke="#34a3cc" stroke-width="9" stroke-linejoin="round" stroke-linecap="round"/></g>
</g>
<g id="texts">
<text y="119.8" font-size="80" fill="#faf7ee" font-weight="bold"><tspan x="89.20" textLength="120.78" lengthAdjust="spacingAndGlyphs">The</tspan> <tspan x="230.00" textLength="164.99" lengthAdjust="spacingAndGlyphs">Indie</tspan> <tspan x="410.40" textLength="267.59" lengthAdjust="spacingAndGlyphs">Co-pilot</tspan> <tspan x="696.00" textLength="340.99" lengthAdjust="spacingAndGlyphs">Scalability</tspan> <tspan x="1050.00" textLength="259.62" lengthAdjust="spacingAndGlyphs">Journey</tspan></text>
<text y="258.8" font-size="40" fill="#60c0e2" font-weight="bold"><tspan x="76.00" textLength="116.41" lengthAdjust="spacingAndGlyphs">STAGE</tspan> <tspan x="200.80" textLength="29.80" lengthAdjust="spacingAndGlyphs">1:</tspan></text>
<text y="307.8" font-size="40" fill="#f7f4ea" font-weight="bold"><tspan x="37.80" textLength="98.62" lengthAdjust="spacingAndGlyphs">SOLO</tspan> <tspan x="147.00" textLength="122.58" lengthAdjust="spacingAndGlyphs">MAKER</tspan></text>
<text y="258.8" font-size="40" fill="#60c0e2" font-weight="bold"><tspan x="546.40" textLength="124.81" lengthAdjust="spacingAndGlyphs">STAGE</tspan> <tspan x="684.00" textLength="32.60" lengthAdjust="spacingAndGlyphs">2:</tspan> <tspan x="723.80" textLength="114.60" lengthAdjust="spacingAndGlyphs">SMALL</tspan> <tspan x="842.00" textLength="95.61" lengthAdjust="spacingAndGlyphs">TEAM</tspan></text>
<text y="307.8" font-size="40" fill="#f7f4ea" font-weight="bold"><tspan x="576.50" textLength="13.99" lengthAdjust="spacingAndGlyphs" font-weight="normal">/</tspan> <tspan x="595.00" textLength="185.38" lengthAdjust="spacingAndGlyphs">GROWING</tspan> <tspan x="792.20" textLength="100.62" lengthAdjust="spacingAndGlyphs">PAINS</tspan></text>
<text y="258.6" font-size="40" fill="#60c0e2" font-weight="bold"><tspan x="1151.20" textLength="115.01" lengthAdjust="spacingAndGlyphs">STAGE</tspan> <tspan x="1276.20" textLength="33.00" lengthAdjust="spacingAndGlyphs">3:</tspan></text>
<text y="307.6" font-size="40" fill="#f7f4ea" font-weight="bold"><tspan x="1086.40" textLength="157.60" lengthAdjust="spacingAndGlyphs">SCALING</tspan> <tspan x="1253.80" textLength="123.42" lengthAdjust="spacingAndGlyphs">SMART</tspan></text>
<text y="651" font-size="30" fill="#78d0ea" stroke-width="0.4" stroke-linejoin="round"><tspan x="-38.30" textLength="53.92" lengthAdjust="spacingAndGlyphs" stroke="#78d0ea">User</tspan> <tspan x="23.20" textLength="75.80" lengthAdjust="spacingAndGlyphs" stroke="#78d0ea">Input:</tspan></text>
<text y="692.7" font-size="30" fill="#f1f5f6" font-weight="bold"><tspan x="-33.00" textLength="91.01" lengthAdjust="spacingAndGlyphs">Trickle</tspan></text>
<text y="650.5" font-size="30" fill="#f1f5f6" font-weight="bold"><tspan x="266.00" textLength="60.02" lengthAdjust="spacingAndGlyphs">User</tspan></text>
<text y="692.5" font-size="30" fill="#f1f5f6" font-weight="bold"><tspan x="208.00" textLength="127.98" lengthAdjust="spacingAndGlyphs">Feedback.`</tspan></text>
<text y="735" font-size="30" fill="#e6eef2" stroke-width="0.4" stroke-linejoin="round"><tspan x="239.20" textLength="102.60" lengthAdjust="spacingAndGlyphs" stroke="#e6eef2">Co-pilot</tspan></text>
<text y="789.5" font-size="30" fill="#78d0ea" stroke-width="0.4" stroke-linejoin="round"><tspan x="-41.40" textLength="116.22" lengthAdjust="spacingAndGlyphs" stroke="#78d0ea">Co-pilot:</tspan></text>
<text y="839.5" font-size="31" fill="#f1f5f6" stroke-width="0.3" stroke-linejoin="round"><tspan x="-35.85" textLength="61.69" lengthAdjust="spacingAndGlyphs" stroke="#f1f5f6">Baxic</tspan> <tspan x="34.15" textLength="63.68" lengthAdjust="spacingAndGlyphs" stroke="#f1f5f6">tasks</tspan> <tspan x="106.15" textLength="101.72" lengthAdjust="spacingAndGlyphs" stroke="#f1f5f6">handled</tspan></text>
<text y="915.5" font-size="31" fill="#f1f5f6" stroke-width="0.7" stroke-linejoin="round"><tspan x="-33.85" textLength="126.52" lengthAdjust="spacingAndGlyphs" fill="#f3c85a" stroke="#f3c85a">Foresight:</tspan></text>
<text y="915.5" font-size="31" fill="#f1f5f6" stroke-width="0.3" stroke-linejoin="round"><tspan x="100.15" textLength="97.68" lengthAdjust="spacingAndGlyphs" stroke="#f1f5f6">Choose</tspan> <tspan x="208.15" textLength="32.69" lengthAdjust="spacingAndGlyphs" stroke="#f1f5f6">for</tspan> <tspan x="250.15" textLength="77.72" lengthAdjust="spacingAndGlyphs" stroke="#f1f5f6">future</tspan></text>
<text y="960.6" font-size="31" fill="#f1f5f6" stroke-width="0.3" stroke-linejoin="round"><tspan x="-34.85" textLength="96.67" lengthAdjust="spacingAndGlyphs" stroke="#f1f5f6">growth,</tspan> <tspan x="71.15" textLength="40.67" lengthAdjust="spacingAndGlyphs" stroke="#f1f5f6">not</tspan> <tspan x="120.89" textLength="43.95" lengthAdjust="spacingAndGlyphs" stroke="#f1f5f6">just</tspan> <tspan x="175.15" textLength="78.12" lengthAdjust="spacingAndGlyphs" stroke="#f1f5f6">today.</tspan></text>
<text y="650.5" font-size="30" fill="#f1f5f6" font-weight="bold"><tspan x="731.00" textLength="111.97" lengthAdjust="spacingAndGlyphs">Co-pilot:</tspan></text>
<text y="692.8" font-size="30" fill="#f1f5f6" stroke-width="0.3" stroke-linejoin="round"><tspan x="698.75" textLength="71.09" lengthAdjust="spacingAndGlyphs" fill="#a9dcf0" stroke="#a9dcf0">Strain</tspan> <tspan x="774.55" textLength="101.50" lengthAdjust="spacingAndGlyphs" stroke="#f1f5f6">appears.</tspan></text>
<text y="735" font-size="30" fill="#f1f5f6" font-weight="bold"><tspan x="505.80" textLength="52.02" lengthAdjust="spacingAndGlyphs">User</tspan> <tspan x="569.80" textLength="102.81" lengthAdjust="spacingAndGlyphs">Reviews</tspan></text>
<text y="735" font-size="30" fill="#f1f5f6" stroke-width="0.3" stroke-linejoin="round"><tspan x="698.75" textLength="86.72" lengthAdjust="spacingAndGlyphs" stroke="#f1f5f6">Manual</tspan> <tspan x="791.20" textLength="144.45" lengthAdjust="spacingAndGlyphs" stroke="#f1f5f6">workarounds</tspan></text>
<text y="777" font-size="30" fill="#f1f5f6" font-weight="bold"><tspan x="504.80" textLength="101.98" lengthAdjust="spacingAndGlyphs">Co-pilot</tspan> <tspan x="615.00" textLength="64.20" lengthAdjust="spacingAndGlyphs">Brain</tspan></text>
<text y="777" font-size="30" fill="#f1f5f6" stroke-width="0.3" stroke-linejoin="round"><tspan x="698.75" textLength="103.48" lengthAdjust="spacingAndGlyphs" stroke="#f1f5f6">increase.</tspan></text>
<text y="877" font-size="31" fill="#f1f5f6" stroke-width="0.7" stroke-linejoin="round"><tspan x="479.75" textLength="148.87" lengthAdjust="spacingAndGlyphs" fill="#f3c85a" stroke="#f3c85a">Challenge:</tspan></text>
<text y="877" font-size="31" fill="#e9f2f5" stroke-width="0.3" stroke-linejoin="round"><tspan x="638.35" textLength="159.88" lengthAdjust="spacingAndGlyphs" stroke="#e9f2f5">Outgrowring</tspan> <tspan x="805.15" textLength="60.72" lengthAdjust="spacingAndGlyphs" stroke="#e9f2f5">initial</tspan> <tspan x="870.55" textLength="74.47" lengthAdjust="spacingAndGlyphs" stroke="#e9f2f5">tools.</tspan></text>
<text y="922.2" font-size="31" fill="#eef4f6" stroke-width="0.3" stroke-linejoin="round"><tspan x="479.55" textLength="123.90" lengthAdjust="spacingAndGlyphs" stroke="#eef4f6">Migration</tspan> <tspan x="611.75" textLength="63.08" lengthAdjust="spacingAndGlyphs" stroke="#eef4f6">fears</tspan> <tspan x="680.75" textLength="74.49" lengthAdjust="spacingAndGlyphs" stroke="#eef4f6">loom.</tspan></text>
<text y="650.8" font-size="30" fill="#78d0ea" stroke-width="0.4" stroke-linejoin="round"><tspan x="1010.80" textLength="55.42" lengthAdjust="spacingAndGlyphs" stroke="#78d0ea">User</tspan> <tspan x="1078.00" textLength="76.20" lengthAdjust="spacingAndGlyphs" stroke="#78d0ea">Input:</tspan></text>
<text y="650.8" font-size="30" fill="#f1f5f6" font-weight="bold"><tspan x="1274.80" textLength="46.22" lengthAdjust="spacingAndGlyphs">Our</tspan> <tspan x="1329.60" textLength="143.82" lengthAdjust="spacingAndGlyphs">discussions</tspan></text>
<text y="692.7" font-size="30" fill="#f1f5f6" font-weight="bold"><tspan x="1010.60" textLength="115.62" lengthAdjust="spacingAndGlyphs">Managed</tspan> <tspan x="1133.40" textLength="59.30" lengthAdjust="spacingAndGlyphs">Flow</tspan></text>
<text y="692.7" font-size="30" fill="#f1f5f6" font-weight="bold"><tspan x="1278.80" textLength="106.98" lengthAdjust="spacingAndGlyphs">Co-pilot</tspan> <tspan x="1393.40" textLength="67.80" lengthAdjust="spacingAndGlyphs">Brain</tspan></text>
<text y="789.3" font-size="30" fill="#78d0ea" stroke-width="0.4" stroke-linejoin="round"><tspan x="1011.80" textLength="117.42" lengthAdjust="spacingAndGlyphs" stroke="#78d0ea">Co-pilot:</tspan></text>
<text y="839.4" font-size="31" fill="#f1f5f6" stroke-width="0.3" stroke-linejoin="round"><tspan x="1011.75" textLength="81.09" lengthAdjust="spacingAndGlyphs" stroke="#f1f5f6">Scales</tspan> <tspan x="1100.15" textLength="149.88" lengthAdjust="spacingAndGlyphs" stroke="#f1f5f6">seanleessly.</tspan> <tspan x="1256.15" textLength="119.72" lengthAdjust="spacingAndGlyphs" stroke="#f1f5f6">Supports</tspan> <tspan x="1384.55" textLength="63.08" lengthAdjust="spacingAndGlyphs" stroke="#f1f5f6">team</tspan></text>
<text y="884.8" font-size="31" fill="#f1f5f6" stroke-width="0.3" stroke-linejoin="round"><tspan x="1011.75" textLength="20.89" lengthAdjust="spacingAndGlyphs" stroke="#f1f5f6">&amp;</tspan> <tspan x="1039.95" textLength="129.88" lengthAdjust="spacingAndGlyphs" stroke="#f1f5f6">decisions.</tspan></text>
<text y="979" font-size="24" fill="#9db1c2"><tspan x="1136.80" textLength="59.38" lengthAdjust="spacingAndGlyphs">Source</tspan> <tspan x="1201.20" textLength="42.80" lengthAdjust="spacingAndGlyphs">note:</tspan> <tspan x="1247.20" textLength="149.82" lengthAdjust="spacingAndGlyphs">LaunchPilot.tech</tspan></text>
<text y="979" font-size="20" fill="#6c8aa3"><tspan x="1401.00" textLength="117.18" lengthAdjust="spacingAndGlyphs">(UGC.Analysis)</tspan></text>
</g>
</svg>
</body></html>
